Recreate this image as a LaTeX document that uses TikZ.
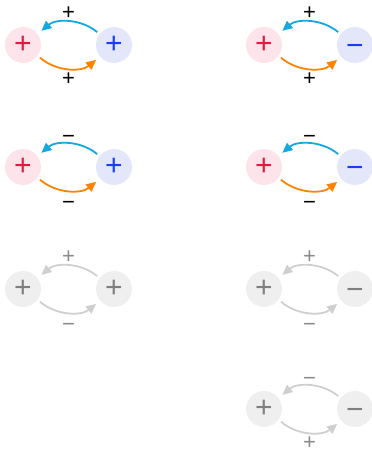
\documentclass[tikz,border=0pt]{standalone}
\usepackage{fontspec}
\setmainfont{Liberation Sans}
\usetikzlibrary{arrows.meta}
\definecolor{pinkfill}{HTML}{FDE3EA}
\definecolor{redsym}{HTML}{E8173C}
\definecolor{bluefill}{HTML}{E4E7FA}
\definecolor{bluesym}{HTML}{1A3CFF}
\definecolor{cyanarrow}{HTML}{12A8E2}
\definecolor{orangearrow}{HTML}{FF8200}
\definecolor{grayfill}{HTML}{EFEFEF}
\definecolor{graysym}{HTML}{7F7F7F}
\definecolor{grayarrow}{HTML}{CFCFCF}
\definecolor{graylabel}{HTML}{8A8A8A}
% minus sign lowered onto the axis of the plus sign
\newcommand{\mns}{\raisebox{-0.15em}{−}}
\tikzset{
  % every sign gets the height of a plus, so + and − share one axis
  sign/.style={circle, minimum size=36pt, inner sep=0pt,
    font=\fontsize{30}{30}\selectfont, execute at begin node={\vphantom{+}}},
  redsign/.style={sign, fill=pinkfill, text=redsym},
  bluesign/.style={sign, fill=bluefill, text=bluesym},
  graysign/.style={sign, fill=grayfill, text=graysym},
  link/.style={line width=1.8pt, -{Triangle[length=10pt,width=9pt]}, bend right=40,
    shorten >=5pt, shorten <=3pt},
  lbl/.style={font=\fontsize{22}{22}\selectfont, inner sep=0pt,
    execute at begin node={\vphantom{+}}},
}
% one feedback pair: #1 name, #2 x, #3 y, #4/#5 left/right node style, #6/#7 left/right sign,
% #8 upper label, #9 lower label; colours set through \upcol, \lowcol, \lblcol
\newcommand{\feedbackpair}[9]{%
  \node[#4] (#1l) at (#2,#3) {#6};
  \node[#5] (#1r) at (#2+91,#3) {#7};
  \draw[link, \upcol] (#1r.143) to (#1l.37);
  \draw[link, \lowcol] (#1l.-36) to (#1r.-140);
  \node[lbl, text=\lblcol] (#1t) at (#2+45.5,#3-32) {#8};
  \node[lbl, text=\lblcol] (#1b) at (#2+45.5,#3+34.5) {#9};
}
\begin{document}
\begin{tikzpicture}[x=1pt, y=-1pt]
  \useasboundingbox (0,0) rectangle (372,451);
  \def\upcol{cyanarrow}\def\lowcol{orangearrow}\def\lblcol{black}
  \feedbackpair{a}{23}{45}{redsign}{bluesign}{+}{+}{+}{+}
  \feedbackpair{b}{264}{45}{redsign}{bluesign}{+}{\mns}{+}{+}
  \feedbackpair{c}{23}{167}{redsign}{bluesign}{+}{+}{\mns}{\mns}
  \feedbackpair{d}{264}{167}{redsign}{bluesign}{+}{\mns}{\mns}{\mns}
  \def\upcol{grayarrow}\def\lowcol{grayarrow}\def\lblcol{graylabel}
  \feedbackpair{e}{23}{289}{graysign}{graysign}{+}{+}{+}{\mns}
  \feedbackpair{f}{264}{289}{graysign}{graysign}{+}{\mns}{+}{\mns}
  \feedbackpair{g}{264}{409}{graysign}{graysign}{+}{\mns}{\mns}{+}
\end{tikzpicture}
\end{document}
